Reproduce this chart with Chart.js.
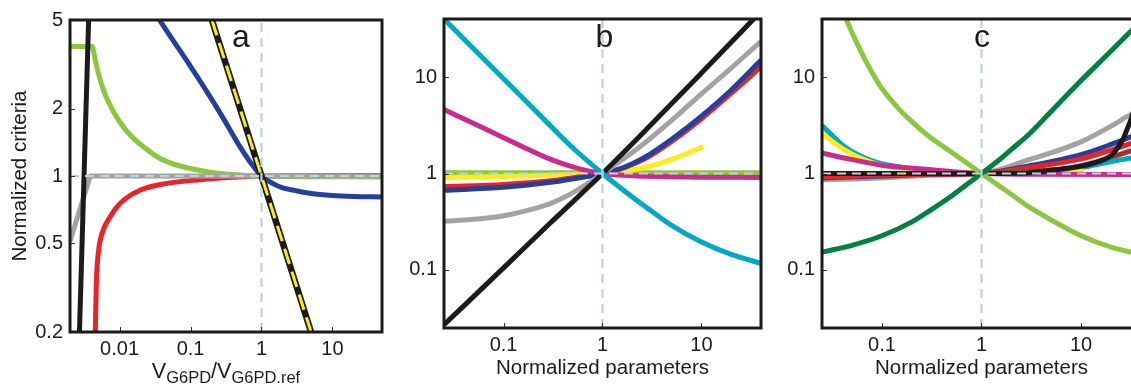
<!DOCTYPE html>
<html><head><meta charset="utf-8">
<script src="https://cdn.jsdelivr.net/npm/chart.js@4.4.0/dist/chart.umd.min.js"></script>
<style>
html,body{margin:0;padding:0;background:#fff;overflow:hidden;}
#wrap{position:relative;width:1131px;height:385px;overflow:hidden;background:#fff;}
canvas{position:absolute;top:0;}
</style></head><body>
<div id="wrap">
<canvas id="ca" width="384" height="385" style="left:0px"></canvas>
<canvas id="cb" width="384" height="385" style="left:380px"></canvas>
<canvas id="cc" width="384" height="385" style="left:760px"></canvas>
</div>
<script>
// ---------- tick labels ----------
const aXLabels = ['0.01', '0.1', '1', '10'];
const aYLabels = ['0.2', '0.5', '1', '2', '5'];
const bXLabels = ['0.1', '1', '10'];
const bYLabels = ['0.1', '1', '10'];
const cXLabels = ['0.1', '1', '10'];
const cYLabels = ['0.1', '1', '10'];
const aXRange = [0.002, 50];
const aYRange = [0.2, 5];
const bcRange = [0.025, 40];

// ---------- panel a series [x, y] ----------
const aBlackSteep = [[0.00272, 0.2], [0.00366, 5]];
const aGreen = [[0.002, 3.8], [0.0041, 3.8], [0.0045, 3.35], [0.005, 2.9], [0.006, 2.4], [0.0078, 2.0], [0.01, 1.75], [0.014, 1.53], [0.02, 1.38], [0.035, 1.21], [0.058, 1.13], [0.1, 1.08], [0.17, 1.045], [0.4, 1.015], [1, 1], [50, 0.99]];
const aRed = [[0.00455, 0.2], [0.0047, 0.33], [0.00507, 0.466], [0.00565, 0.553], [0.0074, 0.658], [0.0092, 0.728], [0.0114, 0.78], [0.0196, 0.865], [0.0466, 0.927], [0.137, 0.962], [0.4, 0.986], [1, 1], [50, 1.006]];
const aGray = [[0.002, 0.51], [0.00387, 1], [50, 1]];
const aBlue = [[0.0366, 5], [0.05, 4.3], [0.1, 3.1], [0.2, 2.2], [0.3, 1.78], [0.5, 1.35], [0.7, 1.15], [1, 1], [1.5, 0.92], [2, 0.885], [3, 0.86], [5, 0.835], [10, 0.818], [20, 0.81], [50, 0.805]];
const aInverse = [[0.2, 5], [1, 1], [5, 0.2]];

// ---------- panel b series ----------
const bCyan = [[0.025, 40], [0.1, 9.6], [0.3, 3.1], [0.5, 1.85], [1, 1], [2, 0.57], [3, 0.42], [5, 0.29], [10, 0.195], [20, 0.145], [40, 0.117]];
const bMagenta = [[0.025, 4.6], [0.05, 3.3], [0.1, 2.35], [0.2, 1.68], [0.3, 1.4], [0.5, 1.17], [0.7, 1.07], [1, 1], [2, 0.945], [5, 0.925], [10, 0.917], [40, 0.91]];
const bBlack = [[0.025, 0.027], [0.1, 0.105], [0.3, 0.31], [1, 1], [3, 3.1], [10, 11], [40, 48]];
const bGray = [[0.025, 0.32], [0.05, 0.335], [0.1, 0.365], [0.2, 0.43], [0.3, 0.49], [0.5, 0.63], [0.7, 0.78], [1, 1], [2, 1.65], [3, 2.28], [5, 3.55], [10, 6.7], [20, 12.4], [40, 23.5]];
const bBlue = [[0.025, 0.67], [0.1, 0.72], [0.3, 0.81], [0.5, 0.88], [1, 1], [1.5, 1.12], [2, 1.263], [3, 1.58], [5, 2.26], [10, 3.94], [20, 7.35], [40, 15]];
const bRed = [[0.025, 0.73], [0.1, 0.77], [0.3, 0.84], [0.5, 0.9], [1, 1], [1.5, 1.11], [2, 1.24], [3, 1.52], [5, 2.15], [10, 3.7], [20, 6.8], [40, 12.8]];
const bYellow = [[0.025, 0.91], [0.1, 0.93], [0.3, 0.96], [1, 1], [2, 1.09], [3, 1.19], [5, 1.4], [7, 1.6], [10.5, 1.9]];
const bGreen = [[0.025, 1.02], [40, 1.02]];

// ---------- panel c series ----------
const cLightGreen = [[0.04, 49], [0.0437, 40], [0.05, 29], [0.06, 19.5], [0.07, 14.2], [0.085, 9.9], [0.1, 7.6], [0.15, 4.6], [0.2, 3.45], [0.3, 2.4], [0.5, 1.66], [0.7, 1.3], [1, 1], [1.5, 0.745], [2, 0.605], [3, 0.45], [5, 0.33], [10, 0.226], [20, 0.172], [31.6, 0.153], [40, 0.146]];
const cDarkGreen = [[0.025, 0.153], [0.05, 0.18], [0.1, 0.226], [0.2, 0.315], [0.3, 0.41], [0.5, 0.585], [0.7, 0.76], [1, 1], [1.5, 1.38], [2, 1.78], [3, 2.55], [5, 4.4], [10, 9.2], [20, 18.6], [31.6, 29.8], [40, 38]];
const cCyan = [[0.025, 3.15], [0.042, 1.9], [0.08, 1.35], [0.2, 1.12], [0.5, 1.03], [1, 1], [3, 1.02], [6, 1.08], [10, 1.15], [18, 1.3], [31.6, 1.45], [40, 1.52]];
const cYellow = [[0.025, 2.6], [0.042, 1.76], [0.08, 1.3], [0.2, 1.1], [0.5, 1.02], [1, 1], [3, 1.01], [6, 1.04], [10.5, 1.08]];
const cMagenta = [[0.025, 1.63], [0.042, 1.45], [0.1, 1.22], [0.3, 1.1], [0.6, 1.03], [1, 1], [3, 0.98], [40, 0.975]];
const cBlack = [[0.025, 1], [1, 1], [2, 1.005], [3, 1.02], [5, 1.08], [10, 1.19], [15, 1.33], [19.5, 1.5], [22, 1.7], [26, 2.2], [29.5, 3.0], [31.6, 3.6], [35, 5]];
const cBlue = [[0.025, 0.9], [0.1, 0.94], [0.3, 0.975], [1, 1], [3, 1.2], [10, 1.57], [20, 2.0], [31.6, 2.4], [40, 2.65]];
const cRed = [[0.025, 0.92], [0.3, 0.98], [1, 1], [3, 1.15], [10, 1.42], [20, 1.75], [31.6, 2.05], [40, 2.25]];
const cBrown = [[1, 1], [3, 1.05], [8, 1.15], [13.5, 1.3], [21, 1.5], [31.6, 1.72], [40, 1.85]];
const cGray = [[0.025, 0.86], [0.1, 0.9], [0.3, 0.96], [1, 1], [3, 1.39], [10, 2.13], [20, 3.1], [31.6, 4.1], [40, 4.6]];

// ---------- styling ----------
const FONT = '"Liberation Sans", Arial, Helvetica, sans-serif';
const C = {
  black: '#1b1b1b', red: '#ec2227', blue: '#24409a', lgreen: '#8dc63f', dgreen: '#008140',
  gray: '#a3a3a3', cyan: '#00a9c1', magenta: '#c92b8e', yellow: '#fbec1e', brown: '#a6302a', ref: '#bcd3d9'
};
const LW = 5;

function ds(points, color, extra) {
  return Object.assign({
    data: points.map(p => ({x: p[0], y: p[1]})),
    borderColor: color, borderWidth: LW, pointRadius: 0, fill: false,
    cubicInterpolationMode: 'monotone', borderCapStyle: 'butt', borderJoinStyle: 'round', clip: 0
  }, extra || {});
}
const straight = {cubicInterpolationMode: 'default', tension: 0};

const decor = {
  id: 'decor',
  afterDatasetsDraw(chart, args, o) {
    const {ctx, chartArea: ca, scales: {x, y}} = chart;
    const px = x.getPixelForValue(1), py = y.getPixelForValue(1);
    ctx.save();
    ctx.beginPath(); ctx.rect(ca.left, ca.top, ca.right - ca.left, ca.bottom - ca.top); ctx.clip();
    ctx.strokeStyle = C.ref; ctx.lineWidth = 2.2; ctx.setLineDash([9, 6]);
    ctx.beginPath(); ctx.moveTo(px, ca.bottom); ctx.lineTo(px, ca.top); ctx.stroke();
    ctx.beginPath(); ctx.moveTo(ca.left, py); ctx.lineTo(ca.right, py); ctx.stroke();
    ctx.restore();
    ctx.save();
    ctx.strokeStyle = '#333'; ctx.lineWidth = 1;
    x.ticks.forEach(t => { const p = Math.round(x.getPixelForValue(t.value)) + 0.5; ctx.beginPath(); ctx.moveTo(p, ca.bottom); ctx.lineTo(p, ca.bottom - 5); ctx.stroke(); });
    y.ticks.forEach(t => { const p = Math.round(y.getPixelForValue(t.value)) + 0.5; ctx.beginPath(); ctx.moveTo(ca.left, p); ctx.lineTo(ca.left + 5, p); ctx.stroke(); });
    ctx.lineWidth = 3; ctx.strokeStyle = C.black;
    ctx.strokeRect(ca.left, ca.top, ca.right - ca.left, ca.bottom - ca.top);
    ctx.fillStyle = C.black; ctx.textAlign = 'center'; ctx.textBaseline = 'alphabetic';
    ctx.font = '32px ' + FONT;
    ctx.fillText(o.letter, px + o.letterDx, o.letterY);
    if (o.subTitle) {
      const parts = o.subTitle;
      const fontFor = k => (k === 'sub' ? '16.5px ' : '21.5px ') + FONT;
      let total = 0;
      parts.forEach(p => { ctx.font = fontFor(p[1]); total += ctx.measureText(p[0]).width; });
      let cx = (ca.left + ca.right) / 2 - total / 2;
      ctx.textAlign = 'left';
      parts.forEach(p => {
        ctx.font = fontFor(p[1]);
        ctx.fillText(p[0], cx, p[1] === 'sub' ? o.subBase + 4.5 : o.subBase);
        cx += ctx.measureText(p[0]).width;
      });
    }
    ctx.restore();
  }
};

function logAxis(range, labels, fit, pad, title) {
  const vals = labels.map(Number);
  const ax = {
    type: 'logarithmic', min: range[0], max: range[1],
    afterBuildTicks: s => { s.ticks = vals.map(v => ({value: v})); },
    afterFit: fit,
    grid: {display: false, drawTicks: false},
    border: {display: false},
    ticks: {
      autoSkip: false, maxRotation: 0, color: C.black, font: {family: FONT, size: 20}, padding: pad,
      callback: v => { const l = labels.find(s => Math.abs(Number(s) - v) < 1e-9 * Math.max(1, v)); return l === undefined ? '' : l; }
    }
  };
  if (title) ax.title = title;
  return ax;
}

function makeChart(id, cfg) {
  return new Chart(document.getElementById(id), {
    type: 'line',
    data: {datasets: cfg.datasets.slice().reverse()},
    options: {
      responsive: false, animation: false, devicePixelRatio: 1,
      layout: {padding: cfg.padding},
      plugins: {legend: {display: false}, tooltip: {enabled: false}, decor: cfg.decor},
      scales: {x: cfg.x, y: cfg.y}
    },
    plugins: [decor]
  });
}

const paramTitle = {display: true, text: 'Normalized parameters', color: C.black, font: {family: FONT, size: 20.5}, padding: {top: 0, bottom: 4}};

// Panel a
makeChart('ca', {
  padding: {top: 20, right: 2, left: 0, bottom: 0},
  datasets: [
    ds(aRed, C.red), ds(aGreen, C.lgreen), ds(aGray, C.gray, straight),
    ds(aBlue, C.blue), ds(aInverse, C.black, Object.assign({borderWidth: 6.5}, straight)),
    ds(aInverse, C.yellow, Object.assign({borderWidth: 3, borderDash: [16, 8]}, straight)),
    ds(aBlackSteep, C.black, straight)
  ],
  x: logAxis(aXRange, aXLabels, s => { s.height = 53; }, 5),
  y: logAxis(aYRange, aYLabels, s => { s.width = 70; }, 7,
    {display: true, text: 'Normalized criteria', color: C.black, font: {family: FONT, size: 20.5}, padding: {top: 8, bottom: 0}}),
  decor: {letter: 'a', letterDx: -20.5, letterY: 47, subTitle: [['V', 'main'], ['G6PD', 'sub'], ['/V', 'main'], ['G6PD.ref', 'sub']], subBase: 378}
});

// Panel b
makeChart('cb', {
  padding: {top: 11, right: 3, left: 0, bottom: 0},
  datasets: [
    ds(bGreen, C.lgreen), ds(bYellow, C.yellow), ds(bRed, C.red), ds(bBlue, C.blue),
    ds(bGray, C.gray), ds(bMagenta, C.magenta), ds(bBlack, C.black), ds(bCyan, C.cyan)
  ],
  x: logAxis(bcRange, bXLabels, s => { s.height = 57; }, 5, paramTitle),
  y: logAxis(bcRange, bYLabels, s => { s.width = 64; }, 7),
  decor: {letter: 'b', letterDx: 2, letterY: 47}
});

// Panel c
makeChart('cc', {
  padding: {top: 11, right: 3, left: 0, bottom: 0},
  datasets: [
    ds(cGray, C.gray), ds(cBlue, C.blue), ds(cRed, C.red), ds(cBrown, C.brown), ds(cCyan, C.cyan),
    ds(cYellow, C.yellow), ds(cMagenta, C.magenta), ds(cBlack, C.black), ds(cLightGreen, C.lgreen), ds(cDarkGreen, C.dgreen)
  ],
  x: logAxis(bcRange, cXLabels, s => { s.height = 57; }, 5, paramTitle),
  y: logAxis(bcRange, cYLabels, s => { s.width = 62; }, 7),
  decor: {letter: 'c', letterDx: 0.5, letterY: 47}
});
</script>
</body></html>
